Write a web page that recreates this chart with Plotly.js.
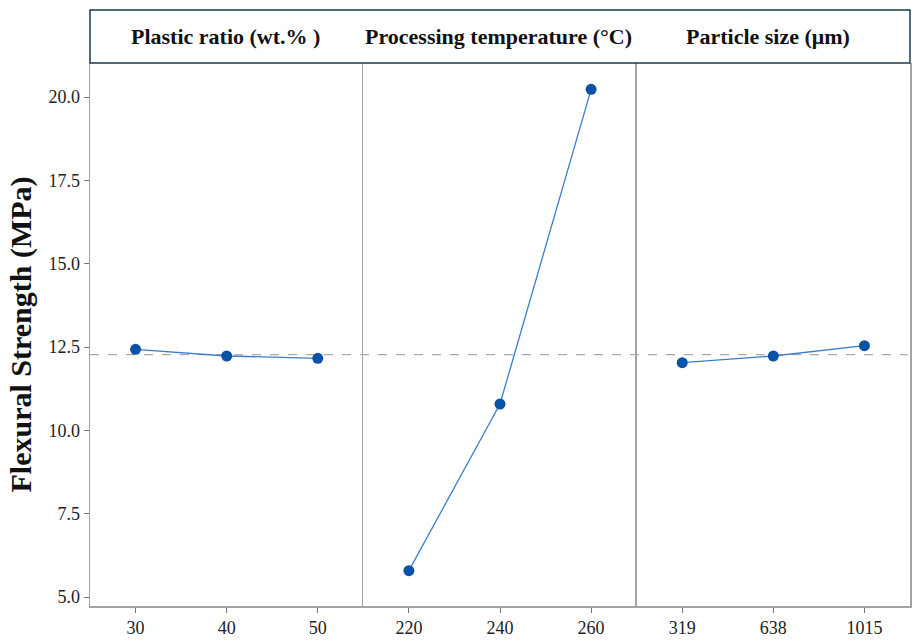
<!DOCTYPE html>
<html>
<head>
<meta charset="utf-8">
<script src="https://cdn.plot.ly/plotly-3.0.1.min.js"></script>
<style>
  html, body { margin: 0; padding: 0; background: #fff; }
  #chart { width: 920px; height: 642px; }
</style>
</head>
<body>
<div id="chart"></div>
<script>
// factor levels and mean flexural strength (MPa) at each level
const factorNames = ["Plastic ratio (wt.% )", "Processing temperature (°C)", "Particle size (μm)"];
const plasticLevels = ["30", "40", "50"];
const plasticMeans = [12.43, 12.23, 12.16];
const tempLevels = ["220", "240", "260"];
const tempMeans = [5.79, 10.79, 20.23];
const sizeLevels = ["319", "638", "1015"];
const sizeMeans = [12.03, 12.23, 12.54];

// grand mean (dashed reference line)
const grandMean =
  plasticMeans.reduce((a, b) => a + b, 0) / plasticMeans.length;

const lineColor = "#3b7dcc";
const markerColor = "#0a52a5";
const frameColor = "#a3a3a3";
const headerColor = "#1d3a4c";
const serif = "Liberation Serif, DejaVu Serif, serif";

const panels = [
  { x: plasticLevels, y: plasticMeans },
  { x: tempLevels, y: tempMeans },
  { x: sizeLevels, y: sizeMeans },
];

const data = panels.map((p, i) => ({
  type: "scatter",
  mode: "lines+markers",
  x: p.x,
  y: p.y,
  xaxis: i === 0 ? "x" : "x" + (i + 1),
  yaxis: i === 0 ? "y" : "y" + (i + 1),
  line: { color: lineColor, width: 1.3 },
  marker: { color: markerColor, size: 11 },
  showlegend: false,
  hoverinfo: "x+y",
}));

const xAxisBase = {
  type: "category",
  range: [-0.5, 2.5],
  showgrid: false,
  zeroline: false,
  showline: true,
  linecolor: frameColor,
  linewidth: 1.5,
  ticks: "outside",
  ticklen: 5,
  tickwidth: 1,
  tickcolor: "#777",
  tickfont: { family: serif, size: 18, color: "#222" },
  fixedrange: true,
};

const yAxisBase = {
  range: [4.73, 21.02],
  showgrid: false,
  zeroline: false,
  showline: true,
  linecolor: frameColor,
  linewidth: 1.5,
  fixedrange: true,
};

const headerTop = 1 + 53 / 543;
const centers = [0.165, 0.498, 0.827];

const layout = {
  width: 920,
  height: 642,
  margin: { l: 90, r: 10, t: 63, b: 36 },
  paper_bgcolor: "#fff",
  plot_bgcolor: "#fff",
  font: { family: serif, color: "#222" },
  xaxis: Object.assign({}, xAxisBase, { domain: [0, 1 / 3], anchor: "y" }),
  xaxis2: Object.assign({}, xAxisBase, { domain: [1 / 3, 2 / 3], anchor: "y2" }),
  xaxis3: Object.assign({}, xAxisBase, { domain: [2 / 3, 1], anchor: "y3" }),
  yaxis: Object.assign({}, yAxisBase, {
    anchor: "x",
    tick0: 5,
    dtick: 2.5,
    tickformat: ".1f",
    ticks: "outside",
    ticklen: 5,
    tickcolor: "#777",
    tickfont: { family: serif, size: 18, color: "#222" },
    title: {
      text: "<b>Flexural Strength (MPa)</b>",
      font: { family: serif, size: 30, color: "#111" },
      standoff: 8,
    },
  }),
  yaxis2: Object.assign({}, yAxisBase, {
    anchor: "x2",
    matches: "y",
    showticklabels: false,
    ticks: "",
  }),
  yaxis3: Object.assign({}, yAxisBase, {
    anchor: "x3",
    matches: "y",
    showticklabels: false,
    ticks: "",
    mirror: true,
  }),
  shapes: [
    {
      type: "line",
      xref: "paper",
      yref: "y",
      x0: 0,
      x1: 0.997,
      y0: grandMean,
      y1: grandMean,
      line: { color: "#aaaaaa", width: 1.3, dash: "dash" },
      layer: "below",
    },
    {
      type: "rect",
      xref: "paper",
      yref: "paper",
      x0: 0,
      x1: 1,
      y0: 1,
      y1: headerTop,
      line: { color: headerColor, width: 1.5 },
    },
  ],
  annotations: factorNames.map((name, i) => ({
    text: "<b>" + name + "</b>",
    xref: "paper",
    yref: "paper",
    x: centers[i],
    y: (1 + headerTop) / 2,
    xanchor: "center",
    yanchor: "middle",
    showarrow: false,
    font: { family: serif, size: 22, color: "#111" },
  })),
};

const config = { staticPlot: true, displayModeBar: false };

Plotly.newPlot("chart", data, layout, config);
</script>
</body>
</html>
